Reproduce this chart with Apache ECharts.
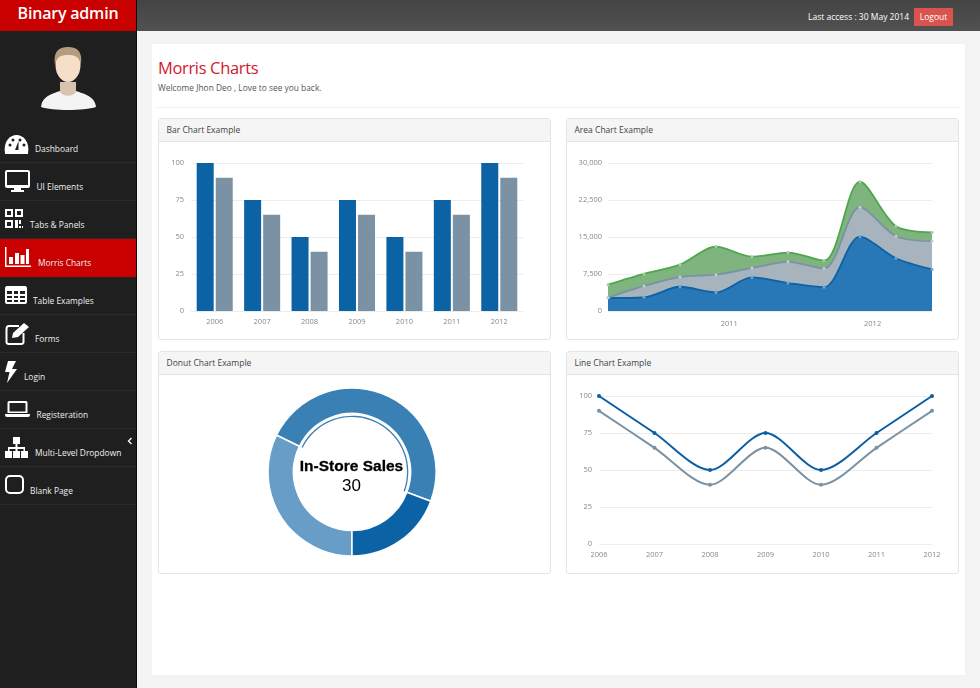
<!DOCTYPE html>
<html>
<head>
<meta charset="utf-8">
<title>Morris Charts</title>
<script src="https://cdn.jsdelivr.net/npm/echarts@6/dist/echarts.min.js"></script>
<style>
  html, body { margin: 0; padding: 0; width: 980px; height: 688px; overflow: hidden; background: #f3f3f3; font-family: "Open Sans", sans-serif; }
  div { box-sizing: border-box; }
  .abs { position: absolute; white-space: nowrap; }
  #sidebar { position: absolute; left: 0; top: 0; width: 137px; height: 688px; background: #1f1f1f; border-right: 1px solid #0c0c0c; }
  #brand { position: absolute; left: 0; top: 0; width: 136px; height: 31px; background: #c90000; color: #fff; font-size: 16px; font-weight: 600; letter-spacing: -0.2px; line-height: 27px; text-align: center; }
  #topbar { position: absolute; left: 137px; top: 0; width: 843px; height: 31px; background: linear-gradient(#444, #515151); }
  .nav { position: absolute; left: 0; width: 136px; height: 38px; border-bottom: 1px solid #2a2a2a; }
  .nav.active { background: #c90000; border-bottom: none; }
  .navtext { position: absolute; color: #f0f0f0; font-size: 8.4px; line-height: 12px; white-space: nowrap; }
  #panel { position: absolute; left: 152px; top: 44px; width: 813px; height: 631px; background: #fff; }
  .card { position: absolute; width: 393px; background: #fff; border: 1px solid #e4e4e4; border-radius: 3px; }
  .card .head { height: 23px; background: #f5f5f5; border-bottom: 1px solid #e4e4e4; color: #444; font-size: 8.5px; line-height: 22px; padding-left: 7.5px; }
  .chart { position: absolute; left: 0; top: 23px; width: 391px; }
</style>
</head>
<body>
<div id="sidebar"></div>
<div id="brand">Binary admin</div>
<div id="topbar"></div>
<div class="abs" style="left:808px;top:10px;color:#fff;font-size:8.5px;line-height:13px">Last access : 30 May 2014</div>
<div class="abs" style="left:914px;top:8px;width:39px;height:18px;background:#d9534f;color:#fff;font-size:8.5px;line-height:18px;text-align:center">Logout</div>

<div class="nav" style="top:125px"></div>
<div class="nav" style="top:163px"></div>
<div class="nav" style="top:201px"></div>
<div class="nav active" style="top:239px"></div>
<div class="nav" style="top:277px"></div>
<div class="nav" style="top:315px"></div>
<div class="nav" style="top:353px"></div>
<div class="nav" style="top:391px"></div>
<div class="nav" style="top:429px"></div>
<div class="nav" style="top:467px"></div>

<!-- sidebar pictures -->
<svg class="abs" style="left:0;top:0" width="136" height="510" fill="#fff">
  <!-- user -->
  <path d="M41 107 C42 96 52 94 60 91 L60 82 L76 82 L76 91 C84 94 95 96 96 107 C84 111 52 111 41 107 Z" fill="#f4f4f4"/>
  <path d="M60 82 L76 82 L76 92 C72 97 64 97 60 92 Z" fill="#d8c4ae"/>
  <ellipse cx="68" cy="65" rx="12.5" ry="17" fill="#f6dfc8"/>
  <path d="M55 65 C53 50 60 47 68 47 C76 47 83 50 81 65 C79 57 76 55 68 55 C60 55 57 57 55 65 Z" fill="#b49c80"/>
  <!-- dashboard -->
  <path d="M5 154 C3 141 10 135 16.500 135 C23 135 30 141 28 154 Z"/>
  <g fill="#1f1f1f"><circle cx="10" cy="145" r="1.500"/><circle cx="13" cy="140" r="1.500"/><circle cx="20" cy="140" r="1.500"/><circle cx="24" cy="145" r="1.500"/><path d="M15 150 L18.500 141 L18.500 150 Z"/></g>
  <!-- monitor -->
  <path fill-rule="evenodd" d="M7 170 H28 Q30 170 30 172 H30 V186 Q30 188 28 188 H21 V190 H24 V192 H11 V190 H14 V188 H7 Q5 188 5 186 V172 Q5 170 7 170 Z M7 172 V185 H28 V172 Z"/>
  <!-- qr -->
  <path fill-rule="evenodd" d="M5 209 H13 V217 H5 Z M7 211 V215 H11 V211 Z M15 209 H23 V217 H15 Z M17 211 V215 H21 V211 Z M5 220 H13 V228 H5 Z M7 222 V226 H11 V222 Z"/>
  <path d="M15 220 H18 V228 H15 Z M19 220 H21 V224 H19 Z M19 226 H21 V228 H19 Z M22 226 H23 V228 H22 Z"/>
  <!-- bars -->
  <path d="M5 247 H6.500 V265.500 H31 V267 H5 Z M9 257 H13 V264 H9 Z M15 253 H19 V264 H15 Z M20.500 255 H24.500 V264 H20.500 Z M26 249 H29 V264 H26 Z"/>
  <!-- table -->
  <path fill-rule="evenodd" d="M7 286 H25 Q27 286 27 288 V302 Q27 304 25 304 H7 Q5 304 5 302 V288 Q5 286 7 286 Z M7 291 V294 H12 V291 Z M14 291 V294 H18 V291 Z M20 291 V294 H25 V291 Z M7 296 V298 H12 V296 Z M14 296 V298 H18 V296 Z M20 296 V298 H25 V296 Z M7 300 V302 H12 V300 Z M14 300 V302 H18 V300 Z M20 300 V302 H25 V300 Z"/>
  <!-- forms -->
  <path d="M19 326 H9 Q6.500 326 6.500 329 V342 Q6.500 344 9 344 H21 Q23.500 344 23.500 342 V333" fill="none" stroke="#fff" stroke-width="2"/>
  <path d="M12 338 L13 333 L24 323 L29 327 L18 337 Z"/>
  <!-- login -->
  <path d="M8 361 H16 L12 369 H17 L7 383 L9.500 372 H5 Z"/>
  <!-- laptop -->
  <path fill-rule="evenodd" d="M9 401 H26 Q27.500 401 27.500 403 V413 H7.500 V403 Q7.500 401 9 401 Z M9.500 403 V411.500 H25.500 V403 Z"/>
  <path d="M5 414 H30 V415 Q30 417 28 417 H7 Q5 417 5 415 Z"/>
  <!-- sitemap -->
  <path d="M13 437 H20 V444 H17.500 V447 H25 V451 H28 V458 H21 V451 H23.500 V449 H17.500 V451 H20 V458 H13 V451 H15.500 V449 H9.500 V451 H12 V458 H5 V451 H8 V447 H15.500 V444 H13 Z"/>
  <!-- blank -->
  <rect x="6" y="476" width="17" height="17" rx="4" fill="none" stroke="#fff" stroke-width="2"/>
  <!-- collapse -->
  <path d="M131.500 438 L128.500 441 L131.500 444" fill="none" stroke="#fff" stroke-width="1.300"/>
</svg>

<div class="navtext" style="left:35px;top:143px">Dashboard</div>
<div class="navtext" style="left:36.500px;top:181px">UI Elements</div>
<div class="navtext" style="left:30px;top:218.500px">Tabs &amp; Panels</div>
<div class="navtext" style="left:38px;top:256.500px">Morris Charts</div>
<div class="navtext" style="left:33px;top:295px">Table Examples</div>
<div class="navtext" style="left:35px;top:333px">Forms</div>
<div class="navtext" style="left:24px;top:370.500px">Login</div>
<div class="navtext" style="left:36.500px;top:408.500px">Registeration</div>
<div class="navtext" style="left:35px;top:447px">Multi-Level Dropdown</div>
<div class="navtext" style="left:30px;top:485px">Blank Page</div>

<div id="panel"></div>
<div class="abs" style="left:158px;top:55px;color:#d11a2a;font-size:16.5px;letter-spacing:-0.35px;line-height:25px">Morris Charts</div>
<div class="abs" style="left:158px;top:81px;color:#555;font-size:8.4px;line-height:13px">Welcome Jhon Deo , Love to see you back.</div>
<div class="abs" style="left:157px;top:107px;width:803px;height:1px;background:#eee"></div>

<div class="card" style="left:158px;top:118px;height:222px"><div class="head">Bar Chart Example</div><div class="chart" id="barChart" style="height:198px"></div></div>
<div class="card" style="left:566px;top:118px;height:222px"><div class="head">Area Chart Example</div><div class="chart" id="areaChart" style="height:198px"></div></div>
<div class="card" style="left:158px;top:351px;height:223px"><div class="head">Donut Chart Example</div><div class="chart" id="donutChart" style="height:199px"></div></div>
<div class="card" style="left:566px;top:351px;height:223px"><div class="head">Line Chart Example</div><div class="chart" id="lineChart" style="height:199px"></div></div>

<script>
// bar and line charts share the same years and values
var years = ['2006', '2007', '2008', '2009', '2010', '2011', '2012'];
var seriesA = [100, 75, 50, 75, 50, 75, 100];
var seriesB = [90, 65, 40, 65, 40, 65, 90];

// area chart, one point per quarter
var quarters = ['2010 Q1', '2010 Q2', '2010 Q3', '2010 Q4', '2011 Q1', '2011 Q2', '2011 Q3', '2011 Q4', '2012 Q1', '2012 Q2'];
var iphone = [2666, 2778, 4912, 3767, 6810, 5670, 4820, 15073, 10687, 8432];
var ipad = [0, 2294, 1969, 3597, 1914, 4293, 3795, 5967, 4460, 5713];
var itouch = [2666, 2441, 2501, 5689, 2293, 1881, 1588, 5175, 2028, 1791];
// year labels sit between quarter points, counted in quarters from the first one
var yearTicks = [3.37, 7.35];
var yearTickLabels = ['2011', '2012'];

// donut chart
var donutNames = ['Mail-Order Sales', 'In-Store Sales', 'Download Sales'];
var donutValues = [20, 30, 12];
var donutColors = ['#679dc6', '#3980b5', '#0b62a4'];

var BLUE = '#0b62a4';
var GREY = '#7a92a3';
var GREEN = '#4da74d';
var labelStyle = { color: '#888', fontSize: 7.5, fontFamily: 'Open Sans' };
var gridLine = { show: true, lineStyle: { color: '#ececec', width: 1 } };

function yAxisPercent() {
  return {
    type: 'value', min: 0, max: 100, interval: 25,
    axisLine: { show: false }, axisTick: { show: false },
    axisLabel: Object.assign({ margin: 7 }, labelStyle),
    splitLine: gridLine
  };
}

// bar chart
echarts.init(document.getElementById('barChart')).setOption({
  animation: false,
  grid: { left: 32, right: 27, top: 21, bottom: 29 },
  xAxis: {
    type: 'category', data: years,
    axisLine: { lineStyle: { color: '#ececec' } }, axisTick: { show: false },
    axisLabel: Object.assign({ margin: 7 }, labelStyle)
  },
  yAxis: yAxisPercent(),
  series: [
    { type: 'bar', data: seriesA, barWidth: 17, barGap: '12%', itemStyle: { color: BLUE } },
    { type: 'bar', data: seriesB, barWidth: 17, itemStyle: { color: GREY } }
  ]
});

// area chart
function areaSeries(values, line, fill, dot) {
  return {
    type: 'line', stack: 'total', data: values, smooth: 0.3,
    symbol: 'circle', symbolSize: 3,
    lineStyle: { color: line, width: 1.8 },
    itemStyle: { color: dot },
    areaStyle: { color: fill, opacity: 1 }
  };
}
echarts.init(document.getElementById('areaChart')).setOption({
  animation: false,
  grid: { left: 41, right: 26, top: 21, bottom: 29 },
  xAxis: [
    {
      type: 'category', data: quarters, boundaryGap: false,
      axisLine: { show: false }, axisTick: { show: false }, axisLabel: { show: false }
    },
    {
      type: 'value', position: 'bottom', min: 0, max: quarters.length - 1,
      axisLine: { show: false }, axisTick: { show: false }, splitLine: { show: false },
      axisLabel: Object.assign({
        margin: 9, customValues: yearTicks,
        formatter: function (value) { return yearTickLabels[yearTicks.indexOf(value)]; }
      }, labelStyle)
    }
  ],
  yAxis: {
    type: 'value', min: 0, max: 30000, interval: 7500,
    axisLine: { show: false }, axisTick: { show: false }, splitLine: gridLine,
    axisLabel: Object.assign({
      margin: 6,
      formatter: function (value) { return value.toLocaleString('en-US'); }
    }, labelStyle)
  },
  series: [
    areaSeries(iphone, BLUE, '#2877b7', '#6fa6d0'),
    areaSeries(ipad, GREY, '#a7b3bd', '#c3ced6'),
    areaSeries(itouch, GREEN, '#7fb47f', '#a5cfa5')
  ]
});

// donut chart, the thin inner arc marks the selected slice
var donutCenter = [193, 97];
echarts.init(document.getElementById('donutChart')).setOption({
  animation: false,
  graphic: [
    {
      type: 'text', x: 192.5, y: 84,
      style: { text: donutNames[1], fill: '#000', stroke: '#000', lineWidth: 0.3, textAlign: 'center', font: 'bold 15.5px "Liberation Sans"' }
    },
    {
      type: 'text', x: 192.5, y: 102.5,
      style: { text: String(donutValues[1]), fill: '#000', textAlign: 'center', font: '17px "Liberation Sans"' }
    }
  ],
  series: [
    {
      type: 'pie', center: donutCenter, radius: [58.5, 84], startAngle: 270, silent: true,
      label: { show: false }, labelLine: { show: false },
      itemStyle: { borderColor: '#fff', borderWidth: 1.5 },
      data: donutNames.map(function (name, i) {
        return { name: name, value: donutValues[i], itemStyle: { color: donutColors[i] } };
      })
    },
    {
      type: 'pie', center: donutCenter, radius: [55, 56.3], startAngle: 270, silent: true,
      label: { show: false }, labelLine: { show: false },
      data: donutNames.map(function (name, i) {
        return { name: name, value: donutValues[i], itemStyle: { color: i === 1 ? donutColors[i] : 'transparent' } };
      })
    }
  ]
});

// line chart
function lineSeries(values, color) {
  return {
    type: 'line', data: values, smooth: 0.3,
    symbol: 'circle', symbolSize: 4,
    lineStyle: { color: color, width: 2 }, itemStyle: { color: color }
  };
}
echarts.init(document.getElementById('lineChart')).setOption({
  animation: false,
  grid: { left: 32, right: 26, top: 21, bottom: 30 },
  xAxis: {
    type: 'category', data: years, boundaryGap: false,
    axisLine: { show: false }, axisTick: { show: false },
    axisLabel: Object.assign({ margin: 7 }, labelStyle)
  },
  yAxis: yAxisPercent(),
  series: [lineSeries(seriesA, '#0b5ea3'), lineSeries(seriesB, GREY)]
});
</script>
</body>
</html>
